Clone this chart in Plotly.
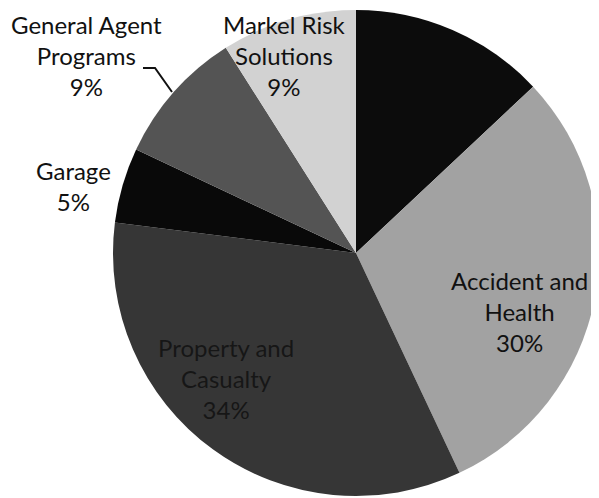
import plotly.graph_objects as go

# segment data, clockwise from 12 o'clock
segments = ["", "Accident and<br>Health", "Property and<br>Casualty", "Garage",
            "General Agent<br>Programs", "Markel Risk<br>Solutions"]
shares = [13, 30, 34, 5, 9, 9]
colors = ["#0c0c0c", "#a2a2a2", "#363636", "#090909", "#545454", "#d2d2d2"]

# label centres in page px (the page body adds an 8px offset)
label_pos = [None, (519, 311), (226, 378), (73, 186), (86, 56), (284, 55)]
label_color = [None, "#111111", "#161616", "#111111", "#111111", "#111111"]

OFF = 8
W, H = 599 - OFF, 498 - OFF


def px(x, y):
    return (x - OFF) / W, 1 - (y - OFF) / H


fig = go.Figure(
    go.Pie(
        labels=[s or "Other" for s in segments],
        values=shares,
        marker=dict(colors=colors, line=dict(width=0)),
        sort=False,
        direction="clockwise",
        rotation=0,
        textinfo="none",
        hoverinfo="label+percent",
        domain=dict(x=[105 / W, 1.0], y=[0, 1]),
    )
)

for seg, val, pos, col in zip(segments, shares, label_pos, label_color):
    if not seg:
        continue
    x, y = px(*pos)
    fig.add_annotation(
        text=f"{seg}<br>{val}%",
        x=x,
        y=y,
        xref="paper",
        yref="paper",
        xanchor="center",
        yanchor="middle",
        showarrow=False,
        align="center",
        font=dict(family="Lato", size=24, color=col),
    )

# leader line for General Agent Programs
pts = [px(143, 68), px(155, 68), px(172, 92)]
fig.add_shape(
    type="path",
    path="M {} {} L {} {} L {} {}".format(*pts[0], *pts[1], *pts[2]),
    xref="paper",
    yref="paper",
    line=dict(color="#111111", width=2),
)

fig.update_layout(
    width=W,
    height=H,
    margin=dict(l=0, r=0, t=0, b=0),
    paper_bgcolor="white",
    plot_bgcolor="white",
    showlegend=False,
)

fig.write_html("out.html")
